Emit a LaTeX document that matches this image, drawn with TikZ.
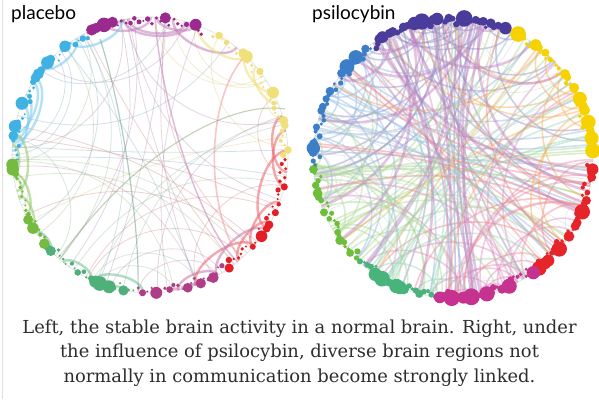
\documentclass[tikz,border=0pt]{standalone}
\usepackage{fontspec}
\setmainfont{DejaVu Serif}
\newfontfamily\labfont{Lato}
\definecolor{pPurple}{HTML}{9A2A8E}
\definecolor{pYellow}{HTML}{F0E07A}
\definecolor{pRed}{HTML}{E41E26}
\definecolor{pPink}{HTML}{B03E86}
\definecolor{pTeal}{HTML}{4FB07A}
\definecolor{pGreen}{HTML}{74BB3F}
\definecolor{pBlue}{HTML}{3FB2E3}
\definecolor{sIndigo}{HTML}{4A3C9A}
\definecolor{sYellow}{HTML}{F6D300}
\definecolor{sRed}{HTML}{E6252A}
\definecolor{sMagenta}{HTML}{C5328F}
\definecolor{sTeal}{HTML}{48B47C}
\definecolor{sGreen}{HTML}{6DBE3B}
\definecolor{sBlue}{HTML}{3C7FC8}
\definecolor{sOrange}{HTML}{F39C3A}
\definecolor{capgray}{HTML}{2E2E2E}
\def\dmin{1}
\def\dvar{3}
% dot ring: cx cy r a0 a1 N color bigprob bigsize
\newcommand\dotring[9]{%
  \foreach \k in {0,...,#6}{%
    \pgfmathsetmacro\a{#4+(#5-#4)*\k/#6}%
    \pgfmathsetmacro\s{rnd<#8 ? #9*(0.65+0.35*rnd) : \dmin+\dvar*rnd^2}%
    \pgfmathsetmacro\rr{#3-(\s<3.5 ? 7*rnd : 0)}%
    \fill[#7] ({#1+\rr*cos(\a)},{#2+\rr*sin(\a)}) circle[radius=\s];
  }}
% chord set: cx cy r a0 a1 n style span(0=global)
\newcommand\chordset[8]{%
  \foreach \k in {1,...,#6}{%
    \pgfmathsetmacro\aa{#4+(#5-#4)*rnd}%
    \pgfmathsetmacro\bb{#8==0 ? 360*rnd : \aa+(#8)*(2*rnd-1)}%
    \pgfmathsetmacro\dd{mod(abs(\bb-\aa),360)}%
    \pgfmathsetmacro\dd{min(\dd,360-\dd)}%
    \pgfmathsetmacro\f{#8==0 ? 1-0.8*sin(\dd/2) : 1-0.6*sin(\dd/2)}%
    \draw[#7] ({#1+#3*cos(\aa)},{#2+#3*sin(\aa)}) .. controls ({#1+\f*#3*cos(\aa)},{#2+\f*#3*sin(\aa)}) and ({#1+\f*#3*cos(\bb)},{#2+\f*#3*sin(\bb)}) .. ({#1+#3*cos(\bb)},{#2+#3*sin(\bb)});
  }}
\tikzset{
  caption/.style={font=\fontsize{17.9}{20}\selectfont, text=capgray, anchor=base, inner sep=0pt},
  lab/.style={font=\labfont\fontsize{19}{20}\selectfont, text=black, anchor=base west, inner sep=0pt},
  thin chord/.style={line width=0.8pt, opacity=0.35},
  local chord/.style={line width=2.4pt, opacity=0.55},
  wide chord/.style={line width=1.6pt, opacity=0.45}
}
\begin{document}
\begin{tikzpicture}[x=1pt,y=1pt]
\pgfmathsetseed{11}
\fill[white] (0,0) rectangle (599,399);
\useasboundingbox (0,0) rectangle (599,399);
\draw[gray!25, line width=1.5pt] (2.5,0) -- (2.5,399);
% ---------------- placebo ----------------
\coordinate (L) at (150,244);
\draw[gray!25, line width=0.6pt] (L) circle[radius=138];
\chordset{150}{244}{138}{67}{115}{8}{pPurple!50!gray!70, thin chord}{0}
\chordset{150}{244}{138}{0}{60}{6}{pYellow!80!gray, thin chord}{0}
\chordset{150}{244}{138}{-55}{-2}{9}{pRed!60!gray!70, thin chord}{0}
\chordset{150}{244}{138}{-95}{-55}{6}{pPink!60!gray!70, thin chord}{0}
\chordset{150}{244}{138}{-140}{-95}{7}{pTeal!60!gray!70, thin chord}{0}
\chordset{150}{244}{138}{-178}{-140}{6}{pGreen!60!gray!70, thin chord}{0}
\chordset{150}{244}{138}{118}{182}{9}{pBlue!50!gray!80, thin chord}{0}
% local arcs
\chordset{150}{244}{138}{70}{112}{6}{pPurple!60, local chord}{30}
\chordset{150}{244}{138}{5}{58}{4}{pYellow, local chord}{25}
\chordset{150}{244}{138}{-52}{-5}{7}{pRed!70, local chord}{35}
\chordset{150}{244}{138}{-92}{-58}{6}{pPink!70, local chord}{30}
\chordset{150}{244}{138}{-138}{-98}{5}{pTeal!80, local chord}{25}
\chordset{150}{244}{138}{-175}{-142}{5}{pGreen!80, local chord}{25}
\chordset{150}{244}{138}{122}{178}{7}{pBlue!70, local chord}{30}
% notable long chords
\draw[pPurple!60, line width=1.4pt, opacity=0.55] (155,382) .. controls (160,300) and (200,170) .. (238,137);
\draw[pRed!50, line width=1.6pt, opacity=0.5] (240,140) .. controls (205,190) and (205,300) .. (245,343);
\draw[pTeal!60!gray, line width=1.2pt, opacity=0.5] (100,360) .. controls (120,300) and (140,180) .. (138,108);
\draw[pGreen!50!gray, line width=1.1pt, opacity=0.45] (60,140) .. controls (120,230) and (220,300) .. (285,290);
% dots
\def\dmin{1.1}\def\dvar{2.8}
\dotring{150}{244}{138}{67}{115}{26}{pPurple}{0.18}{7.5}
\dotring{150}{244}{138}{0}{62}{30}{pYellow}{0.12}{6.5}
\dotring{150}{244}{138}{-55}{-2}{28}{pRed}{0.18}{6.5}
\dotring{150}{244}{138}{-95}{-57}{20}{pPink}{0.15}{6.5}
\dotring{150}{244}{138}{-138}{-97}{20}{pTeal}{0.28}{7.5}
\dotring{150}{244}{138}{-178}{-140}{19}{pGreen}{0.22}{7}
\dotring{150}{244}{138}{118}{182}{32}{pBlue}{0.18}{6.5}
% ---------------- psilocybin ----------------
\coordinate (R) at (453,241);
\draw[gray!25, line width=0.6pt] (R) circle[radius=140];
\chordset{453}{241}{140}{68}{125}{40}{sIndigo!60!white, wide chord}{0}
\chordset{453}{241}{140}{-130}{-178}{30}{sGreen!55!white, wide chord}{0}
\chordset{453}{241}{140}{128}{182}{26}{sBlue!55!white, wide chord}{0}
\chordset{453}{241}{140}{-95}{-55}{22}{sMagenta!55!white, wide chord}{0}
\chordset{453}{241}{140}{-55}{-3}{16}{sRed!55!white, wide chord}{0}
\chordset{453}{241}{140}{-5}{55}{14}{sOrange!85!white, wide chord}{0}
\chordset{453}{241}{140}{-130}{-97}{14}{sTeal!55!white, wide chord}{0}
\chordset{453}{241}{140}{70}{125}{18}{violet!50!white, line width=2.6pt, opacity=0.45}{0}
\chordset{453}{241}{140}{0}{360}{30}{gray!40, line width=0.6pt, opacity=0.5}{0}
% dots
\def\dmin{1.6}\def\dvar{3.4}
\dotring{453}{241}{140}{68}{125}{36}{sIndigo}{0.17}{8.5}
\dotring{453}{241}{140}{3}{64}{36}{sYellow}{0.18}{8}
\dotring{453}{241}{140}{-52}{-3}{30}{sRed}{0.18}{8}
\dotring{453}{241}{140}{-97}{-55}{26}{sMagenta}{0.18}{8.5}
\dotring{453}{241}{140}{-132}{-99}{20}{sTeal}{0.2}{8}
\dotring{453}{241}{140}{-177}{-134}{26}{sGreen}{0.17}{8.5}
\dotring{453}{241}{140}{127}{183}{32}{sBlue}{0.15}{7.5}
% ---------------- labels ----------------
\node[lab] (plab) at (11,379) {placebo};
\node[lab] (slab) at (312,379) {psilocybin};
\node[caption] (cap1) at (299.5,66) {Left, the stable brain activity in a normal brain. Right, under};
\node[caption] (cap2) at (299.5,42) {the influence of psilocybin, diverse brain regions not};
\node[caption] (cap3) at (299.5,17) {normally in communication become strongly linked.};
\end{tikzpicture}
\end{document}
